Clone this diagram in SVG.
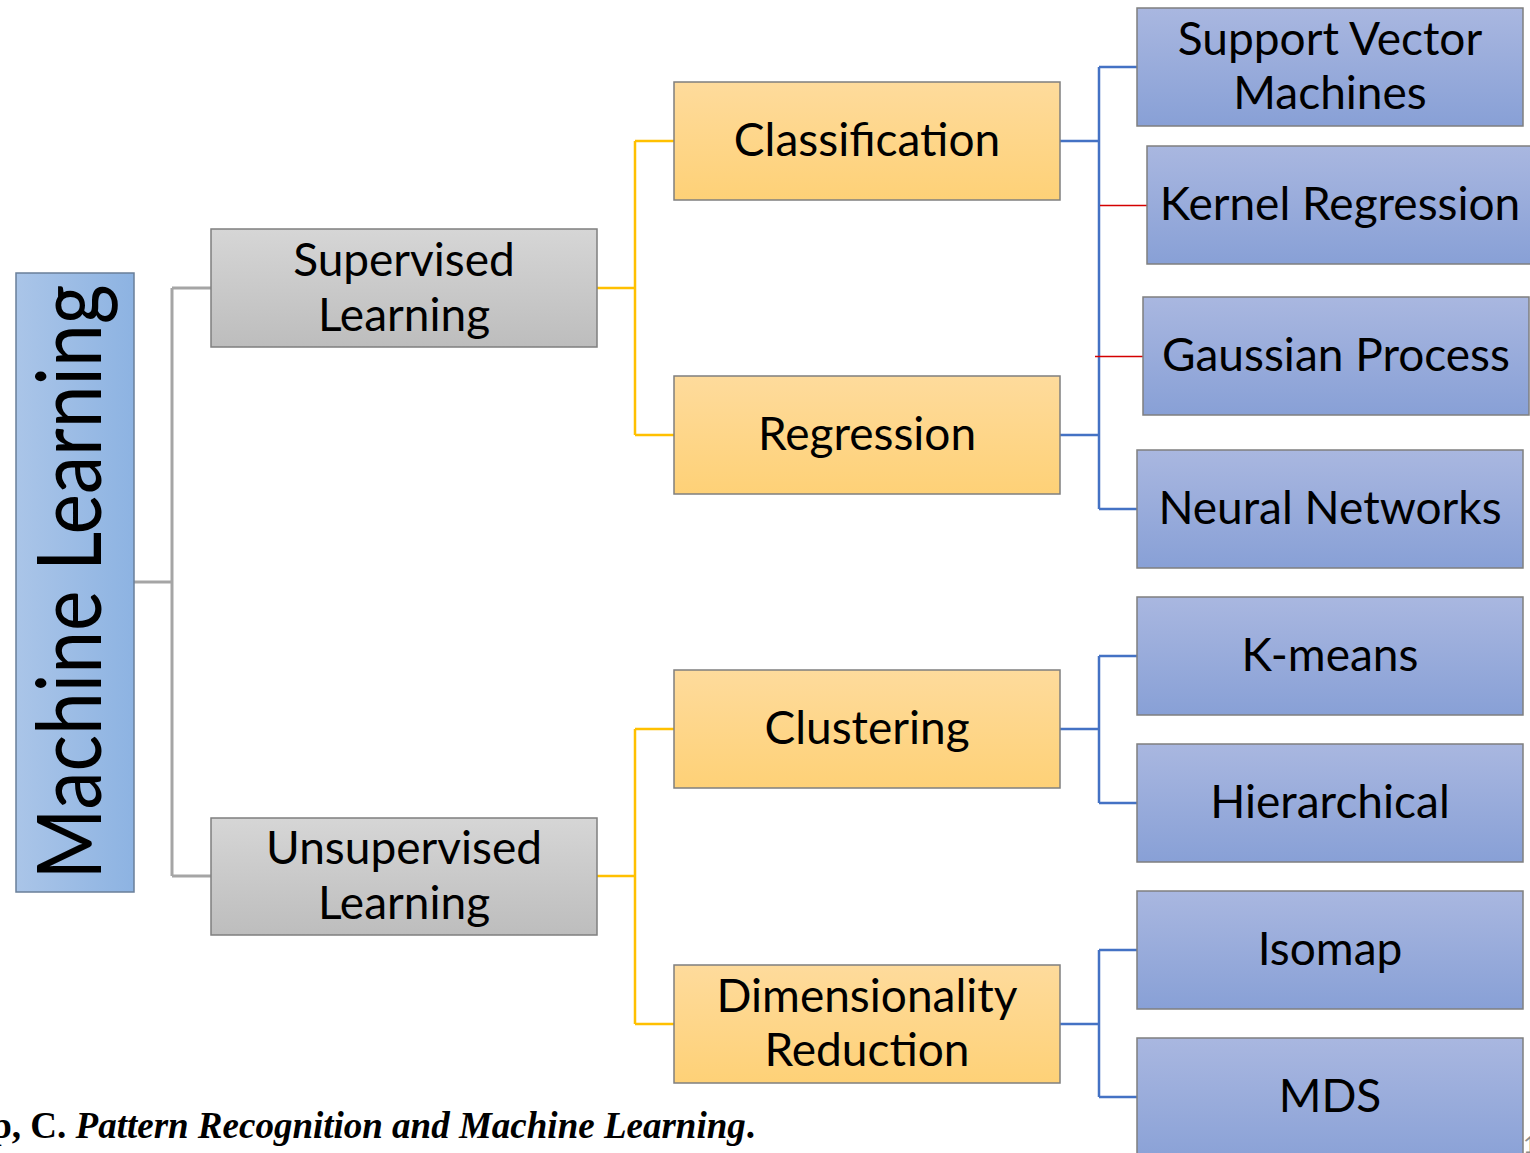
<svg xmlns="http://www.w3.org/2000/svg" width="1530" height="1153" viewBox="0 0 1530 1153">
  <defs>
    <linearGradient id="gRoot" x1="0" y1="0" x2="1" y2="0">
      <stop offset="0" stop-color="#aac5e8"/>
      <stop offset="1" stop-color="#8db3e2"/>
    </linearGradient>
    <linearGradient id="gGray" x1="0" y1="0" x2="0" y2="1">
      <stop offset="0" stop-color="#d6d6d6"/>
      <stop offset="1" stop-color="#bdbdbd"/>
    </linearGradient>
    <linearGradient id="gGold" x1="0" y1="0" x2="0" y2="1">
      <stop offset="0" stop-color="#fedb9c"/>
      <stop offset="1" stop-color="#fed177"/>
    </linearGradient>
    <linearGradient id="gBlue" x1="0" y1="0" x2="0" y2="1">
      <stop offset="0" stop-color="#a9b7e0"/>
      <stop offset="1" stop-color="#88a0d6"/>
    </linearGradient>
  </defs>
  <style>
    .box { stroke: #7f7f7f; stroke-width: 1.5; }
    .root { fill: url(#gRoot); stroke: #6a7f99; stroke-width: 1.5; }
    .gray { fill: url(#gGray); }
    .gold { fill: url(#gGold); }
    .blue { fill: url(#gBlue); }
    .lbl { font-family: Lato, "Liberation Sans", sans-serif; font-size: 46px; fill: #000; text-anchor: middle; }
    .c-gray { stroke: #a5a5a5; stroke-width: 3; fill: none; }
    .c-gold { stroke: #ffc000; stroke-width: 2.5; fill: none; }
    .c-blue { stroke: #4472c4; stroke-width: 2.5; fill: none; }
    .c-red { stroke: #d40000; stroke-width: 1.5; fill: none; }
    .cite { font-family: "Liberation Serif", serif; font-size: 37px; font-weight: bold; fill: #000; }
  </style>

  <rect width="1530" height="1153" fill="#ffffff"/>

  <!-- tree connectors -->
  <g id="connectors">
    <path class="c-gray" d="M134 582 H172 M172 288 V876 M172 288 H211 M172 876 H211"/>
    <path class="c-gold" d="M597 288 H635 M635 141 V435 M635 141 H674 M635 435 H674"/>
    <path class="c-gold" d="M597 876 H635 M635 729 V1024 M635 729 H674 M635 1024 H674"/>
    <path class="c-blue" d="M1060 141 H1099 M1060 435 H1099 M1099 67 V509 M1099 67 H1137 M1099 509 H1137"/>
    <path class="c-red" d="M1100 205.5 H1147 M1095 356.5 H1143"/>
    <path class="c-blue" d="M1060 729 H1099 M1099 656 V803 M1099 656 H1137 M1099 803 H1137"/>
    <path class="c-blue" d="M1060 1024 H1099 M1099 950 V1097 M1099 950 H1137 M1099 1097 H1137"/>
  </g>

  <!-- root -->
  <g id="machine-learning">
    <rect class="root" x="16" y="273" width="118" height="619"/>
    <text transform="translate(101 582) rotate(-90)" font-family="Lato, 'Liberation Sans', sans-serif" font-size="90" text-anchor="middle" fill="#000" textLength="595" lengthAdjust="spacingAndGlyphs">Machine Learning</text>
  </g>

  <!-- level 1 -->
  <g id="supervised">
    <rect class="box gray" x="211" y="229" width="386" height="118"/>
    <text class="lbl" x="404" y="276">Supervised</text>
    <text class="lbl" x="404" y="331">Learning</text>
  </g>
  <g id="unsupervised">
    <rect class="box gray" x="211" y="818" width="386" height="117"/>
    <text class="lbl" x="404" y="864">Unsupervised</text>
    <text class="lbl" x="404" y="919">Learning</text>
  </g>

  <!-- level 2 -->
  <g id="classification">
    <rect class="box gold" x="674" y="82" width="386" height="118"/>
    <text class="lbl" x="867" y="156">Classification</text>
  </g>
  <g id="regression">
    <rect class="box gold" x="674" y="376" width="386" height="118"/>
    <text class="lbl" x="867" y="450">Regression</text>
  </g>
  <g id="clustering">
    <rect class="box gold" x="674" y="670" width="386" height="118"/>
    <text class="lbl" x="867" y="744">Clustering</text>
  </g>
  <g id="dimensionality-reduction">
    <rect class="box gold" x="674" y="965" width="386" height="118"/>
    <text class="lbl" x="867" y="1012">Dimensionality</text>
    <text class="lbl" x="867" y="1066">Reduction</text>
  </g>

  <!-- level 3 -->
  <g id="svm">
    <rect class="box blue" x="1137" y="8" width="386" height="118"/>
    <text class="lbl" x="1330" y="55">Support Vector</text>
    <text class="lbl" x="1330" y="109">Machines</text>
  </g>
  <g id="kernel-regression">
    <rect class="box blue" x="1147" y="146" width="386" height="118"/>
    <text class="lbl" x="1340" y="220">Kernel Regression</text>
  </g>
  <g id="gaussian-process">
    <rect class="box blue" x="1143" y="297" width="386" height="118"/>
    <text class="lbl" x="1336" y="371">Gaussian Process</text>
  </g>
  <g id="neural-networks">
    <rect class="box blue" x="1137" y="450" width="386" height="118"/>
    <text class="lbl" x="1330" y="524">Neural Networks</text>
  </g>
  <g id="k-means">
    <rect class="box blue" x="1137" y="597" width="386" height="118"/>
    <text class="lbl" x="1330" y="671">K-means</text>
  </g>
  <g id="hierarchical">
    <rect class="box blue" x="1137" y="744" width="386" height="118"/>
    <text class="lbl" x="1330" y="818">Hierarchical</text>
  </g>
  <g id="isomap">
    <rect class="box blue" x="1137" y="891" width="386" height="118"/>
    <text class="lbl" x="1330" y="965">Isomap</text>
  </g>
  <g id="mds">
    <rect class="box blue" x="1137" y="1038" width="386" height="130"/>
    <text class="lbl" x="1330" y="1112">MDS</text>
  </g>

  <!-- citation line, clipped at the left edge -->
  <text class="cite" x="755" y="1138" text-anchor="end">Bishop, C. <tspan font-style="italic">Pattern Recognition and Machine Learning</tspan>.</text>
  <text x="1523" y="1153" font-family="Lato, sans-serif" font-size="24" fill="#8c8c8c">1</text>
</svg>
